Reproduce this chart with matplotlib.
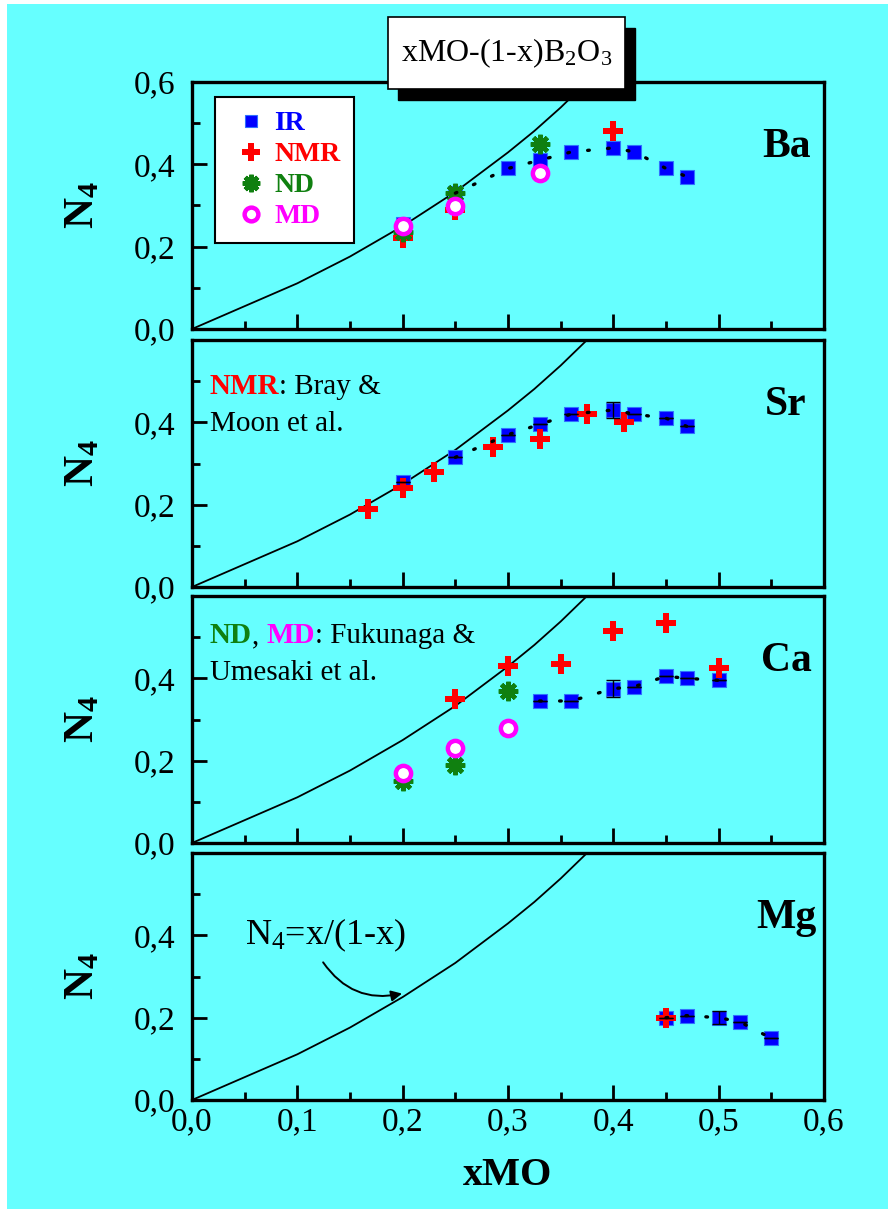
import matplotlib
matplotlib.use("Agg")
import matplotlib.pyplot as plt
from matplotlib.patches import Rectangle
from matplotlib.ticker import FuncFormatter, MultipleLocator

plt.rcParams["font.family"] = ["Liberation Serif", "DejaVu Serif"]
plt.rcParams["mathtext.fontset"] = "custom"
plt.rcParams["mathtext.rm"] = "Liberation Serif"
plt.rcParams["mathtext.it"] = "Liberation Serif:italic"
plt.rcParams["mathtext.bf"] = "Liberation Serif:bold"

CYAN = "#66ffff"
BLUE = "#0000ff"
RED = "#ff0000"
GREEN = "#108010"
MAGENTA = "#ff00ff"

# N4 = x/(1-x) reference curve
CURVE_X = [0.0, 0.1, 0.15, 0.2, 0.25, 0.3, 0.325, 0.35, 0.375, 0.4, 0.45]
CURVE_Y = [0.0, 0.111, 0.176, 0.25, 0.333, 0.429, 0.481, 0.538, 0.6, 0.667, 0.818]

# Ba
BA_IR_X = [0.20, 0.25, 0.30, 0.33, 0.36, 0.40, 0.42, 0.45, 0.47]
BA_IR_Y = [0.255, 0.33, 0.39, 0.41, 0.43, 0.44, 0.43, 0.39, 0.37]
BA_NMR_X = [0.20, 0.25, 0.40]
BA_NMR_Y = [0.22, 0.29, 0.48]
BA_ND_X = [0.20, 0.25, 0.33]
BA_ND_Y = [0.235, 0.33, 0.45]
BA_MD_X = [0.20, 0.25, 0.33]
BA_MD_Y = [0.25, 0.30, 0.38]

# Sr
SR_IR_X = [0.20, 0.25, 0.30, 0.33, 0.36, 0.40, 0.42, 0.45, 0.47]
SR_IR_Y = [0.255, 0.315, 0.37, 0.395, 0.42, 0.43, 0.42, 0.41, 0.39]
SR_IR_ERR = [0, 0, 0, 0, 0, 0.02, 0, 0, 0]
SR_NMR_X = [0.167, 0.20, 0.23, 0.286, 0.33, 0.375, 0.41]
SR_NMR_Y = [0.19, 0.24, 0.28, 0.34, 0.36, 0.42, 0.40]

# Ca
CA_IR_X = [0.33, 0.36, 0.40, 0.42, 0.45, 0.47, 0.50]
CA_IR_Y = [0.345, 0.345, 0.375, 0.38, 0.405, 0.40, 0.395]
CA_IR_ERR = [0, 0, 0.02, 0, 0, 0, 0]
CA_NMR_X = [0.25, 0.30, 0.35, 0.40, 0.45, 0.50]
CA_NMR_Y = [0.35, 0.43, 0.435, 0.515, 0.535, 0.425]
CA_ND_X = [0.20, 0.25, 0.30]
CA_ND_Y = [0.15, 0.19, 0.37]
CA_MD_X = [0.20, 0.25, 0.30]
CA_MD_Y = [0.17, 0.23, 0.28]

# Mg
MG_IR_X = [0.45, 0.47, 0.50, 0.52, 0.55]
MG_IR_Y = [0.20, 0.205, 0.20, 0.19, 0.15]
MG_IR_ERR = [0, 0, 0.015, 0, 0]
MG_NMR_X = [0.45]
MG_NMR_Y = [0.20]

XTICKS = [0.0, 0.1, 0.2, 0.3, 0.4, 0.5, 0.6]


def comma(v, pos):
    return f"{v:.1f}".replace(".", ",")


def plot_ir(ax, x, y, err=None, fit_from=0):
    ax.plot(x, y, "s", color=BLUE, ms=10, mec="#3070ff", mew=0.8, zorder=4, label="IR")
    if err is not None:
        ax.errorbar(x, y, yerr=err, fmt="none", ecolor="black", elinewidth=1,
                    capsize=5, capthick=1, zorder=5)
    ax.plot(x[fit_from:], y[fit_from:], color="black", lw=2.4,
            linestyle=(0, (0.5, 5.5)), dash_capstyle="round", zorder=6)


def plot_nmr(ax, x, y):
    ax.plot(x, y, "P", color=RED, ms=14, mew=0, zorder=4, label="NMR")


def plot_nd(ax, x, y):
    ax.plot(x, y, marker=(8, 2, 0), ls="none", color=GREEN, ms=14, mew=3.2,
            zorder=4, label="ND")


def plot_md(ax, x, y):
    ax.plot(x, y, "o", color=MAGENTA, mfc="white", ms=11, mew=3.2, zorder=4,
            label="MD")


fig = plt.figure(figsize=(8.88, 12.09), dpi=100, facecolor="white")
fig.patches.append(Rectangle((7 / 888, 0), 1, 1 - 4 / 1209, transform=fig.transFigure,
                             facecolor=CYAN, edgecolor="none", zorder=-10))

left = 192 / 888
width = 632 / 888
height = 247 / 1209
bottoms = [1 - 329 / 1209, 1 - 587 / 1209, 1 - 843 / 1209, 1 - 1100 / 1209]
axes = [fig.add_axes([left, b, width, height]) for b in bottoms]

for i, ax in enumerate(axes):
    ax.set_facecolor(CYAN)
    ax.plot(CURVE_X, CURVE_Y, color="black", lw=1.3, zorder=3)
    ax.set_xlim(0, 0.6)
    ax.set_ylim(0, 0.6)
    ax.set_xticks(XTICKS)
    ax.xaxis.set_minor_locator(MultipleLocator(0.05))
    ax.set_yticks([0.0, 0.2, 0.4, 0.6] if i == 0 else [0.0, 0.2, 0.4])
    ax.yaxis.set_minor_locator(MultipleLocator(0.1))
    ax.xaxis.set_major_formatter(FuncFormatter(comma))
    ax.yaxis.set_major_formatter(FuncFormatter(comma))
    ax.tick_params(which="both", direction="in", top=False, right=False,
                   labelsize=24, width=2)
    ax.tick_params(which="major", length=11)
    ax.tick_params(which="minor", length=6)
    ax.tick_params(axis="y", pad=12)
    ax.tick_params(axis="x", pad=5)
    if i < 3:
        ax.tick_params(axis="x", labelbottom=False)
    for s in ax.spines.values():
        s.set_linewidth(2.4)
    ax.text(-0.172, 0.5, r"$\mathbf{N_4}$", transform=ax.transAxes, rotation=90,
            ha="center", va="center", fontsize=31)

ax_ba, ax_sr, ax_ca, ax_mg = axes

# Ba
plot_ir(ax_ba, BA_IR_X, BA_IR_Y, fit_from=1)
plot_nmr(ax_ba, BA_NMR_X, BA_NMR_Y)
plot_nd(ax_ba, BA_ND_X, BA_ND_Y)
plot_md(ax_ba, BA_MD_X, BA_MD_Y)
leg = ax_ba.legend(loc="upper left", bbox_to_anchor=(0.036, 0.939), borderaxespad=0,
                   prop={"weight": "bold", "size": 20}, frameon=True,
                   fancybox=False, edgecolor="black", facecolor="white", framealpha=1,
                   handlelength=1.6, handletextpad=0.05, labelspacing=0.2,
                   borderpad=0.5, numpoints=1, markerscale=0.9)
leg.get_frame().set_linewidth(1.5)
for txt, c in zip(leg.get_texts(), [BLUE, RED, GREEN, MAGENTA]):
    txt.set_color(c)

# Sr
plot_ir(ax_sr, SR_IR_X, SR_IR_Y, err=SR_IR_ERR, fit_from=1)
plot_nmr(ax_sr, SR_NMR_X, SR_NMR_Y)
t = ax_sr.text(0.028, 0.78, "NMR", color=RED, fontweight="bold", fontsize=21,
               transform=ax_sr.transAxes, va="baseline")
ax_sr.annotate(": Bray &", xy=(1, 0), xycoords=t, va="bottom", fontsize=21)
ax_sr.text(0.028, 0.63, "Moon et al.", fontsize=21, transform=ax_sr.transAxes,
           va="baseline")

# Ca
plot_ir(ax_ca, CA_IR_X, CA_IR_Y, err=CA_IR_ERR)
plot_nmr(ax_ca, CA_NMR_X, CA_NMR_Y)
plot_nd(ax_ca, CA_ND_X, CA_ND_Y)
plot_md(ax_ca, CA_MD_X, CA_MD_Y)
t1 = ax_ca.text(0.028, 0.81, "ND", color=GREEN, fontweight="bold", fontsize=21,
                transform=ax_ca.transAxes, va="baseline")
t2 = ax_ca.annotate(", ", xy=(1, 0), xycoords=t1, va="bottom", fontsize=21)
t3 = ax_ca.annotate("MD", xy=(1, 0), xycoords=t2, va="bottom", fontsize=21,
                    color=MAGENTA, fontweight="bold")
ax_ca.annotate(": Fukunaga &", xy=(1, 0), xycoords=t3, va="bottom", fontsize=21)
ax_ca.text(0.028, 0.66, "Umesaki et al.", fontsize=21, transform=ax_ca.transAxes,
           va="baseline")

# Mg
plot_ir(ax_mg, MG_IR_X, MG_IR_Y, err=MG_IR_ERR)
plot_nmr(ax_mg, MG_NMR_X, MG_NMR_Y)
ax_mg.text(0.05, 0.40, "N$_{4}$=x/(1-x)", fontsize=26, va="center")
ax_mg.annotate("", xy=(0.202, 0.26), xytext=(0.123, 0.34),
               arrowprops=dict(arrowstyle="-|>", color="black", lw=1.4,
                               mutation_scale=16,
                               connectionstyle="arc3,rad=0.35"))

for ax, name in zip(axes, ["Ba", "Sr", "Ca", "Mg"]):
    ax.text(0.94, 0.735, name, transform=ax.transAxes, ha="center", va="center",
            fontsize=30, fontweight="bold")

ax_mg.set_xlabel("xMO", fontsize=29, fontweight="bold", labelpad=14)

# title box with shadow
bx0, bx1, by0, by1 = 388 / 888, 625 / 888, 1 - 89 / 1209, 1 - 17 / 1209
dx, dy = 10 / 888, 11 / 1209
fig.add_artist(Rectangle((bx0 + dx, by0 - dy), bx1 - bx0, by1 - by0,
                         transform=fig.transFigure, facecolor="black",
                         edgecolor="black", zorder=10))
fig.add_artist(Rectangle((bx0, by0), bx1 - bx0, by1 - by0, transform=fig.transFigure,
                         facecolor="white", edgecolor="black", lw=1.2, zorder=11))
fig.text((bx0 + bx1) / 2, (by0 + by1) / 2, "xMO-(1-x)B$_{2}$O$_{3}$", ha="center",
         va="center", fontsize=23, zorder=12)

fig.savefig("out.png", dpi=100, facecolor=fig.get_facecolor())
